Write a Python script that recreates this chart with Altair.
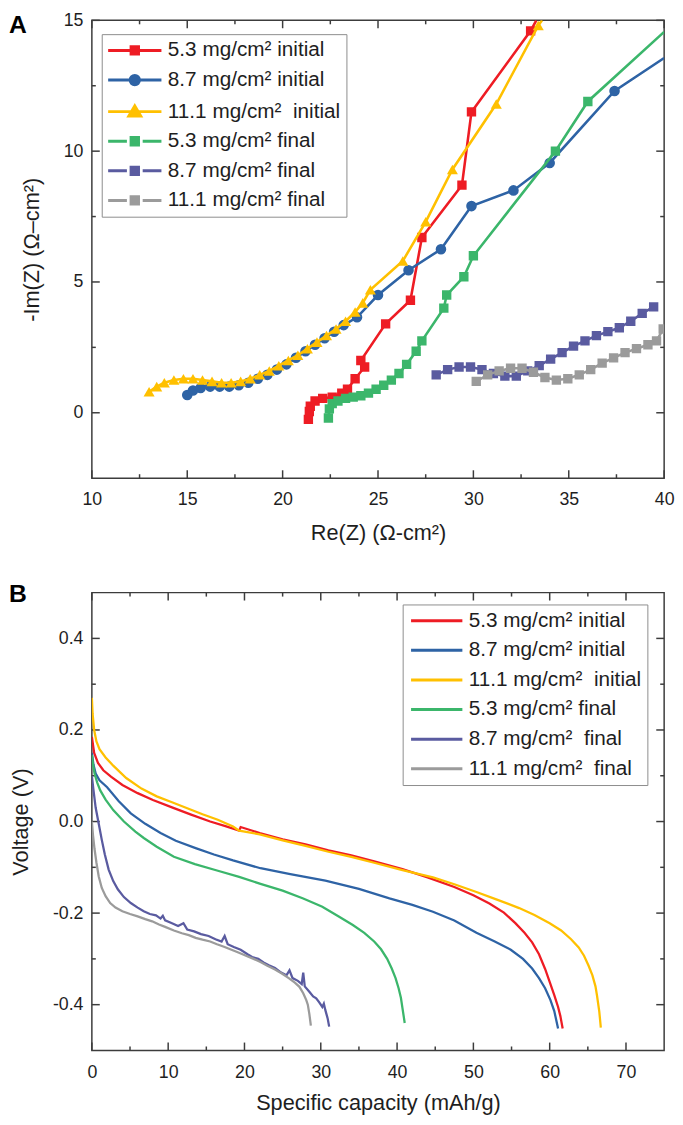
import altair as alt
import pandas as pd

FONT = "Liberation Sans"
INK = "#1e1e1e"
FRAME = "#3c3c3c"
NB = "\u00a0"

COLORS = ["#EE1C24", "#2E63A5", "#FFC000", "#3BB66B", "#5A5BA0", "#9B9B9B"]
NAMES_A = ["5.3 mg/cm² initial", "8.7 mg/cm² initial", f"11.1 mg/cm²{NB} initial",
           "5.3 mg/cm² final", "8.7 mg/cm² final", "11.1 mg/cm² final"]
NAMES_B = ["5.3 mg/cm² initial", "8.7 mg/cm² initial", f"11.1 mg/cm²{NB} initial",
           "5.3 mg/cm² final", f"8.7 mg/cm²{NB} final", f"11.1 mg/cm²{NB} final"]

# ---------------- Panel A : Nyquist data (Re Z, -Im Z) ----------------
a_red_x = [21.35, 21.4, 21.45, 21.7, 22.1, 22.6, 23.1, 23.4, 23.8, 24.3, 24.1, 25.4, 26.7, 27.3, 29.4, 29.9, 33.0]
a_red_y = [-0.25, 0.05, 0.25, 0.45, 0.55, 0.6, 0.75, 0.9, 1.3, 1.75, 2.0, 3.4, 4.3, 6.7, 8.7, 11.5, 14.6]

a_blue_x = [15.0, 15.3, 15.7, 16.2, 16.7, 17.2, 17.7, 18.2, 18.7, 19.2, 19.7, 20.2, 20.7, 21.2, 21.7, 22.2, 22.7, 23.2,
            23.9, 25.0, 26.6, 28.3, 29.9, 32.1, 34.0, 37.4]
a_blue_y = [0.68, 0.85, 0.95, 1.0, 1.0, 1.0, 1.05, 1.15, 1.3, 1.45, 1.65, 1.85, 2.1, 2.35, 2.6, 2.85, 3.1, 3.35,
            3.65, 4.5, 5.45, 6.25, 7.9, 8.5, 9.55, 12.3]

a_yel_x = [13.0, 13.4, 13.8, 14.3, 14.8, 15.3, 15.8, 16.3, 16.8, 17.3, 17.8, 18.3, 18.8, 19.3, 19.8, 20.3, 20.8, 21.3,
           21.8, 22.3, 22.8, 23.3, 23.8, 24.2, 24.6, 26.3, 27.5, 28.9, 31.2, 33.4]
a_yel_y = [0.8, 1.0, 1.15, 1.25, 1.3, 1.3, 1.25, 1.2, 1.15, 1.15, 1.2, 1.3, 1.45, 1.6, 1.8, 2.0, 2.2, 2.45,
           2.7, 2.95, 3.2, 3.5, 3.85, 4.2, 4.7, 5.8, 7.3, 9.3, 11.8, 14.8]

a_grn_x = [22.4, 22.45, 22.6, 22.9, 23.3, 23.7, 24.1, 24.5, 24.9, 25.3, 25.7, 26.1, 26.5, 27.0, 27.3, 28.45, 28.6,
           29.5, 30.0, 34.3, 36.0]
a_grn_y = [-0.2, 0.15, 0.35, 0.45, 0.55, 0.6, 0.65, 0.75, 0.9, 1.05, 1.25, 1.5, 1.85, 2.35, 2.75, 4.0, 4.5,
           5.2, 6.0, 10.0, 11.9]

a_pur_x = [28.05, 28.65, 29.25, 29.85, 30.45, 31.05, 31.65, 32.25, 32.85, 33.45, 34.05, 34.65, 35.25, 35.85, 36.45,
           37.05, 37.65, 38.25, 38.85, 39.45]
a_pur_y = [1.45, 1.65, 1.75, 1.75, 1.65, 1.5, 1.4, 1.4, 1.6, 1.8, 2.05, 2.3, 2.55, 2.75, 2.95,
           3.1, 3.25, 3.5, 3.8, 4.05]

a_gry_x = [30.15, 30.75, 31.35, 31.95, 32.55, 33.15, 33.75, 34.35, 34.95, 35.55, 36.15, 36.75, 37.35, 37.95, 38.55,
           39.15, 39.6, 39.95]
a_gry_y = [1.2, 1.45, 1.6, 1.7, 1.7, 1.55, 1.35, 1.25, 1.3, 1.45, 1.65, 1.9, 2.1, 2.3, 2.45,
           2.6, 2.75, 3.2]

# where each line leaves the frame, line only, no marker
a_exit_x = [33.3, 40.0, 33.6, 40.0, None, None]
a_exit_y = [15.0, 13.56, 15.0, 14.56, None, None]

A_X = [a_red_x, a_blue_x, a_yel_x, a_grn_x, a_pur_x, a_gry_x]
A_Y = [a_red_y, a_blue_y, a_yel_y, a_grn_y, a_pur_y, a_gry_y]
SHAPES_A = ["square", "circle", "triangle-up", "square", "square", "square"]
SIZES_A = [90, 115, 125, 90, 90, 90]

# ---------------- Panel B : discharge curves (capacity, voltage) ----------------
b_red_x = [0, 0.3, 0.8, 1.5, 2.5, 4, 6, 8, 10.5, 13, 15.5, 17.5, 19.3, 19.5, 22, 25, 28, 31, 34, 37, 40.7, 44, 47.5,
           50, 52.1, 54, 55.5, 56.7, 57.7, 58.6, 59.4, 60.1, 60.6, 61.1, 61.4, 61.7]
b_red_y = [0.185, 0.15, 0.128, 0.112, 0.098, 0.08, 0.062, 0.047, 0.031, 0.015, 0.0, -0.01, -0.02, -0.012, -0.025,
           -0.039, -0.05, -0.063, -0.074, -0.087, -0.104, -0.122, -0.143, -0.161, -0.179, -0.199, -0.222, -0.243,
           -0.264, -0.29, -0.322, -0.355, -0.379, -0.405, -0.425, -0.452]

b_blue_x = [0, 0.2, 0.5, 1.0, 2.0, 3.5, 5.1, 7, 9.0, 11, 13.6, 16, 18.5, 22.1, 26, 30.6, 35, 39, 42, 44.7, 47.5, 50.4,
            52.8, 54.9, 56.5, 57.7, 58.6, 59.4, 60.1, 60.6, 61.1]
b_blue_y = [0.15, 0.125, 0.105, 0.09, 0.075, 0.045, 0.018, -0.005, -0.025, -0.042, -0.058, -0.072, -0.085, -0.102,
            -0.115, -0.129, -0.147, -0.168, -0.182, -0.197, -0.216, -0.243, -0.262, -0.28, -0.3, -0.321, -0.342,
            -0.364, -0.39, -0.414, -0.452]

b_yel_x = [0, 0.1, 0.3, 0.6, 1.0, 1.8, 2.8, 4.5, 6.5, 8.5, 10.5, 12.5, 14.5, 16.5, 18.5, 19.3, 22, 25, 28, 31, 34, 37,
           40.7, 44.7, 47.5, 50.4, 53, 56, 58, 60, 61.5, 62.8, 63.8, 64.5, 65.1, 65.6, 66.0, 66.2, 66.5, 66.7]
b_yel_y = [0.27, 0.235, 0.2, 0.175, 0.158, 0.14, 0.122, 0.095, 0.072, 0.055, 0.042, 0.029, 0.016, 0.004, -0.011,
           -0.02, -0.028, -0.041, -0.053, -0.066, -0.077, -0.09, -0.106, -0.122, -0.137, -0.154, -0.17, -0.189,
           -0.204, -0.222, -0.238, -0.257, -0.275, -0.293, -0.315, -0.336, -0.36, -0.38, -0.415, -0.45]

b_grn_x = [0, 0.15, 0.35, 0.7, 1.1, 1.8, 2.8, 4.2, 5.7, 6.8, 8.5, 10.75, 13.5, 16.4, 19.3, 22.1, 25, 27.7, 30.2,
           32.3, 34.2, 35.7, 37.0, 37.9, 38.7, 39.3, 39.8, 40.2, 40.5, 40.7, 41.0]
b_grn_y = [0.145, 0.125, 0.105, 0.085, 0.068, 0.048, 0.025, 0.0, -0.022, -0.036, -0.055, -0.077, -0.093, -0.107,
           -0.121, -0.136, -0.151, -0.168, -0.186, -0.207, -0.226, -0.243, -0.262, -0.279, -0.3, -0.321, -0.342,
           -0.364, -0.385, -0.407, -0.44]

b_pur_x = [0, 0.2, 0.5, 0.9, 1.3, 1.7, 2.2, 2.8, 3.4, 4.2, 5.1, 6.0, 6.8, 7.6, 8.4, 9.0, 9.3, 9.6, 10.5, 11.3, 12.0,
           12.5, 13.4, 14.3, 15.3, 16.2, 17.0, 17.4, 17.8, 18.6, 19.5, 20.4, 21.0, 21.8, 22.5, 23.2, 24.0, 24.8,
           25.5, 25.9, 26.3, 27.0, 27.5, 27.7, 27.9, 28.5, 29.0, 29.4, 29.8, 30.2, 30.4, 30.6, 30.9, 31.1]
b_pur_y = [0.1, 0.07, 0.03, -0.005, -0.04, -0.072, -0.105, -0.13, -0.148, -0.165, -0.178, -0.188, -0.196, -0.202,
           -0.205, -0.212, -0.206, -0.216, -0.222, -0.228, -0.222, -0.236, -0.24, -0.246, -0.25, -0.257, -0.262,
           -0.25, -0.268, -0.274, -0.28, -0.29, -0.296, -0.3, -0.308, -0.314, -0.32, -0.33, -0.336, -0.325,
           -0.342, -0.348, -0.355, -0.33, -0.36, -0.372, -0.382, -0.386, -0.395, -0.405, -0.398, -0.412, -0.43,
           -0.448]

b_gry_x = [0, 0.15, 0.35, 0.6, 0.9, 1.3, 1.8, 2.4, 3.1, 4.0, 5.0, 6.0, 7.0, 7.9, 8.8, 9.6, 10.75, 11.8, 12.7, 13.6,
           14.5, 15.5, 16.4, 17.4, 18.3, 19.2, 20.2, 21.2, 22.1, 23.0, 24.0, 24.9, 25.8, 26.6, 27.2, 27.7, 28.1,
           28.3, 28.5, 28.7]
b_gry_y = [0.0, -0.03, -0.06, -0.09, -0.12, -0.145, -0.163, -0.178, -0.188, -0.196, -0.202, -0.207, -0.213, -0.218,
           -0.225, -0.23, -0.238, -0.244, -0.248, -0.254, -0.258, -0.262, -0.268, -0.274, -0.28, -0.286, -0.293,
           -0.3, -0.307, -0.315, -0.323, -0.332, -0.342, -0.352, -0.361, -0.375, -0.39, -0.4, -0.42, -0.446]

B_X = [b_red_x, b_blue_x, b_yel_x, b_grn_x, b_pur_x, b_gry_x]
B_Y = [b_red_y, b_blue_y, b_yel_y, b_grn_y, b_pur_y, b_gry_y]

# tick values
A_XMAJ = [10, 15, 20, 25, 30, 35, 40]
A_XMIN = [12.5, 17.5, 22.5, 27.5, 32.5, 37.5]
A_YMAJ = [0, 5, 10, 15]
A_YMIN = [2.5, 7.5, 12.5]
B_XMAJ = [0, 10, 20, 30, 40, 50, 60, 70]
B_XMIN = [5, 15, 25, 35, 45, 55, 65]
B_YMAJ = [-0.4, -0.2, 0.0, 0.2, 0.4]
B_YMIN = [-0.3, -0.1, 0.1, 0.3]

W, H = 580, 464
MAJ, MIN = 8, 4

AX = dict(labelFont=FONT, labelFontSize=18, labelColor=INK, titleFont=FONT, titleFontSize=22,
          titleFontWeight="normal", titleColor=INK, ticks=False, domain=False, grid=False,
          labelFlush=False)

XS_A = alt.Scale(domain=[10, 40], nice=False, zero=False)
YS_A = alt.Scale(domain=[-2.5, 15], nice=False, zero=False)
XS_B = alt.Scale(domain=[0, 75], nice=False, zero=False)
YS_B = alt.Scale(domain=[-0.5, 0.5], nice=False, zero=False)

AX_AX = alt.Axis(values=A_XMAJ, format="d", title="Re(Z) (Ω-cm²)", labelPadding=13, titlePadding=14, **AX)
AX_AY = alt.Axis(values=A_YMAJ, format="d", title="-Im(Z) (Ω–cm²)", labelPadding=9, titlePadding=20, **AX)
AX_BX = alt.Axis(values=B_XMAJ, format="d", title="Specific capacity (mAh/g)", labelPadding=13, titlePadding=12,
                 **AX)
AX_BY = alt.Axis(values=B_YMAJ, title="Voltage (V)", labelPadding=9, titlePadding=20,
                 labelExpr="datum.value < -0.001 ? '-' + format(-datum.value, '.1f') : format(abs(datum.value), '.1f')",
                 **AX)

# ---- legend symbol paths (units of 5 px with symbolSize 100) ----
L0, L1, C = -2.0, 8.8, 3.4


def sq(h=0.75):
    return f"M{C-h},{-h}H{C+h}V{h}H{C-h}Z"


def circ(r=0.95):
    return f"M{C-r},0A{r},{r} 0 1,0 {C+r},0A{r},{r} 0 1,0 {C-r},0Z"


def tri():
    return f"M{C},-1.15L{C+1.2},0.9H{C-1.2}Z"


LINE_FULL = f"M{L0},0H{L1}"
LINE_GAP = f"M{L0},0H{C-1.6}M{C+1.6},0H{L1}"
PATHS_A = [LINE_FULL + sq(), LINE_FULL + circ(), LINE_FULL + tri(),
           LINE_GAP + sq(), LINE_GAP + sq(), LINE_GAP + sq()]

LEG_COMMON = dict(orient="none", title=None, padding=6, rowPadding=8, symbolSize=100, symbolStrokeWidth=3,
                  labelFont=FONT, labelFontSize=21, labelColor=INK, labelLimit=400, strokeColor="#8c8c8c",
                  fillColor="white", symbolOpacity=1)

LEG_A = alt.Legend(legendX=10, legendY=14, labelOffset=40, **LEG_COMMON)
LEG_B = alt.Legend(legendX=315, legendY=12, labelOffset=40, symbolType="M-1.6,0H8.8", **LEG_COMMON)

COL_A = alt.Scale(domain=NAMES_A, range=COLORS)
SHP_A = alt.Scale(domain=NAMES_A, range=PATHS_A)
COL_B = alt.Scale(domain=NAMES_B, range=COLORS)


def tick_layers(xs, ys, xaxis, yaxis, xmaj, xmin, ymaj, ymin):
    out = []
    for vals, ln in ((xmaj, MAJ), (xmin, MIN)):
        df = pd.DataFrame({"v": vals})
        for y0, y1 in ((H, H - ln), (0, ln)):
            out.append(alt.Chart(df).mark_rule(color=FRAME, strokeWidth=1.5).encode(
                x=alt.X("v:Q", scale=xs, axis=xaxis), y=alt.value(y0), y2=alt.value(y1)))
    for vals, ln in ((ymaj, MAJ), (ymin, MIN)):
        df = pd.DataFrame({"v": vals})
        for x0, x1 in ((0, ln), (W, W - ln)):
            out.append(alt.Chart(df).mark_rule(color=FRAME, strokeWidth=1.5).encode(
                y=alt.Y("v:Q", scale=ys, axis=yaxis), x=alt.value(x0), x2=alt.value(x1)))
    return out


def panel_letter(letter, yoff):
    return alt.Chart(pd.DataFrame({"t": [letter]})).mark_text(
        align="left", baseline="top", font=FONT, fontSize=25, fontWeight="bold", color="black"
    ).encode(x=alt.value(-84), y=alt.value(yoff), text="t:N")


# ---------- Panel A ----------
# legend-only layer first (no rows; the legend comes from the explicit scale domains)
legend_a = alt.Chart(pd.DataFrame({"series": NAMES_A})).transform_filter("false").mark_point(
    filled=True, opacity=1, strokeWidth=3
).encode(
    color=alt.Color("series:N", scale=COL_A, legend=LEG_A),
    stroke=alt.Stroke("series:N", scale=COL_A, legend=LEG_A),
    shape=alt.Shape("series:N", scale=SHP_A, legend=LEG_A),
)
layers_a = [legend_a] + tick_layers(XS_A, YS_A, AX_AX, AX_AY, A_XMAJ, A_XMIN, A_YMAJ, A_YMIN)
for k, name in enumerate(NAMES_A):
    xs, ys = list(A_X[k]), list(A_Y[k])
    pts = pd.DataFrame({"series": name, "i": list(range(len(xs))), "x": xs, "y": ys})
    lx, ly = xs[:], ys[:]
    if a_exit_x[k] is not None:
        lx.append(a_exit_x[k])
        ly.append(a_exit_y[k])
    line = pd.DataFrame({"series": name, "i": list(range(len(lx))), "x": lx, "y": ly})
    enc = dict(x=alt.X("x:Q", scale=XS_A, axis=AX_AX), y=alt.Y("y:Q", scale=YS_A, axis=AX_AY),
               color=alt.Color("series:N", scale=COL_A, legend=None), order=alt.Order("i:Q"))
    layers_a.append(alt.Chart(line).mark_line(clip=True, strokeWidth=2.6).encode(**enc))
    layers_a.append(alt.Chart(pts).mark_point(clip=True, filled=True, opacity=1, shape=SHAPES_A[k],
                                              size=SIZES_A[k]).encode(**enc))
layers_a.append(panel_letter("A", -7))
panel_a = alt.layer(*layers_a).properties(width=W, height=H)

# ---------- Panel B ----------
layers_b = tick_layers(XS_B, YS_B, AX_BX, AX_BY, B_XMAJ, B_XMIN, B_YMAJ, B_YMIN)
for k, name in enumerate(NAMES_B):
    df = pd.DataFrame({"series": name, "i": list(range(len(B_X[k]))), "x": B_X[k], "y": B_Y[k]})
    layers_b.append(alt.Chart(df).mark_line(clip=True, strokeWidth=2.3).encode(
        x=alt.X("x:Q", scale=XS_B, axis=AX_BX), y=alt.Y("y:Q", scale=YS_B, axis=AX_BY),
        color=alt.Color("series:N", scale=COL_B, legend=LEG_B), order=alt.Order("i:Q")))
layers_b.append(panel_letter("B", -11))
panel_b = alt.layer(*layers_b).properties(width=W, height=H)

chart = (
    alt.vconcat(panel_a, panel_b, spacing=37)
    .resolve_scale(color="independent", stroke="independent", shape="independent")
    .properties(padding={"top": -5, "left": 0, "right": 0, "bottom": 0}, background="white")
    .configure_view(stroke=FRAME, strokeWidth=1.5)
)

chart.save("out.html", embed_options={"renderer": "svg", "actions": False})
